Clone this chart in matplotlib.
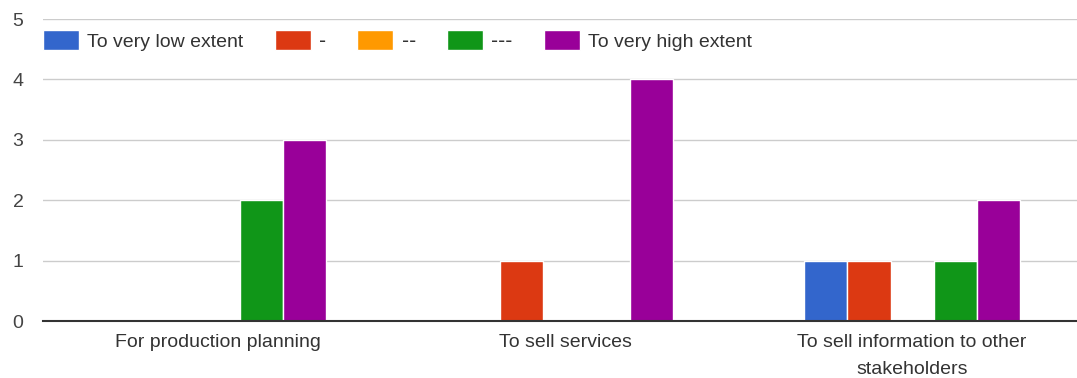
import matplotlib.pyplot as plt
import numpy as np

plt.rcParams['font.family'] = ['Liberation Sans', 'DejaVu Sans']

categories = ['For production planning', 'To sell services',
              'To sell information to other\nstakeholders']
series_names = ['To very low extent', '-', '--', '---', 'To very high extent']
very_low = [0, 0, 1]
low = [0, 1, 1]
mid = [0, 0, 0]
high = [2, 0, 1]
very_high = [3, 4, 2]
colors = ['#3366cc', '#dc3912', '#ff9900', '#109618', '#990099']

series = [very_low, low, mid, high, very_high]
fs = 14

fig = plt.figure(figsize=(10.77, 3.78), dpi=100)
ax = fig.add_axes([43 / 1077, 1 - 321 / 378, 1 - 43 / 1077, (321 - 19) / 378])

x = np.arange(len(categories))
slot = 0.1245
for i, (vals, name, col) in enumerate(zip(series, series_names, colors)):
    ax.bar(x + (i - 2) * slot, vals, width=slot, color=col, label=name,
           edgecolor='white', linewidth=1.0, zorder=3)

ax.set_xlim(-0.504, 2.475)
ax.set_ylim(0, 5)
ax.set_yticks(range(6))
ax.set_xticks(x)
ax.set_xticklabels(categories, fontsize=fs, color='#333333', linespacing=1.72)
ax.tick_params(axis='both', length=0, labelsize=fs, colors='#444444')
ax.tick_params(axis='x', pad=9.5, labelcolor='#333333')
ax.tick_params(axis='y', pad=14)

ax.grid(axis='y', color='#cccccc', linewidth=1, zorder=0)
for s in ['top', 'right', 'left']:
    ax.spines[s].set_visible(False)
ax.spines['bottom'].set_color('#333333')
ax.spines['bottom'].set_linewidth(1.5)
ax.spines['bottom'].set_zorder(4)

leg = fig.legend(loc='upper left', bbox_to_anchor=(43 / 1077, 1 - 30 / 378), ncol=5,
                 frameon=False, fontsize=fs, handlelength=1.86, handleheight=1.2,
                 handletextpad=0.42, columnspacing=1.6, borderpad=0, borderaxespad=0,
                 labelcolor='#333333')
# plain hyphen labels: keep them from running together
for t in leg.get_texts():
    if set(t.get_text()) == {'-'}:
        t.set_family('DejaVu Sans')

fig.savefig('out.png', dpi=100)
